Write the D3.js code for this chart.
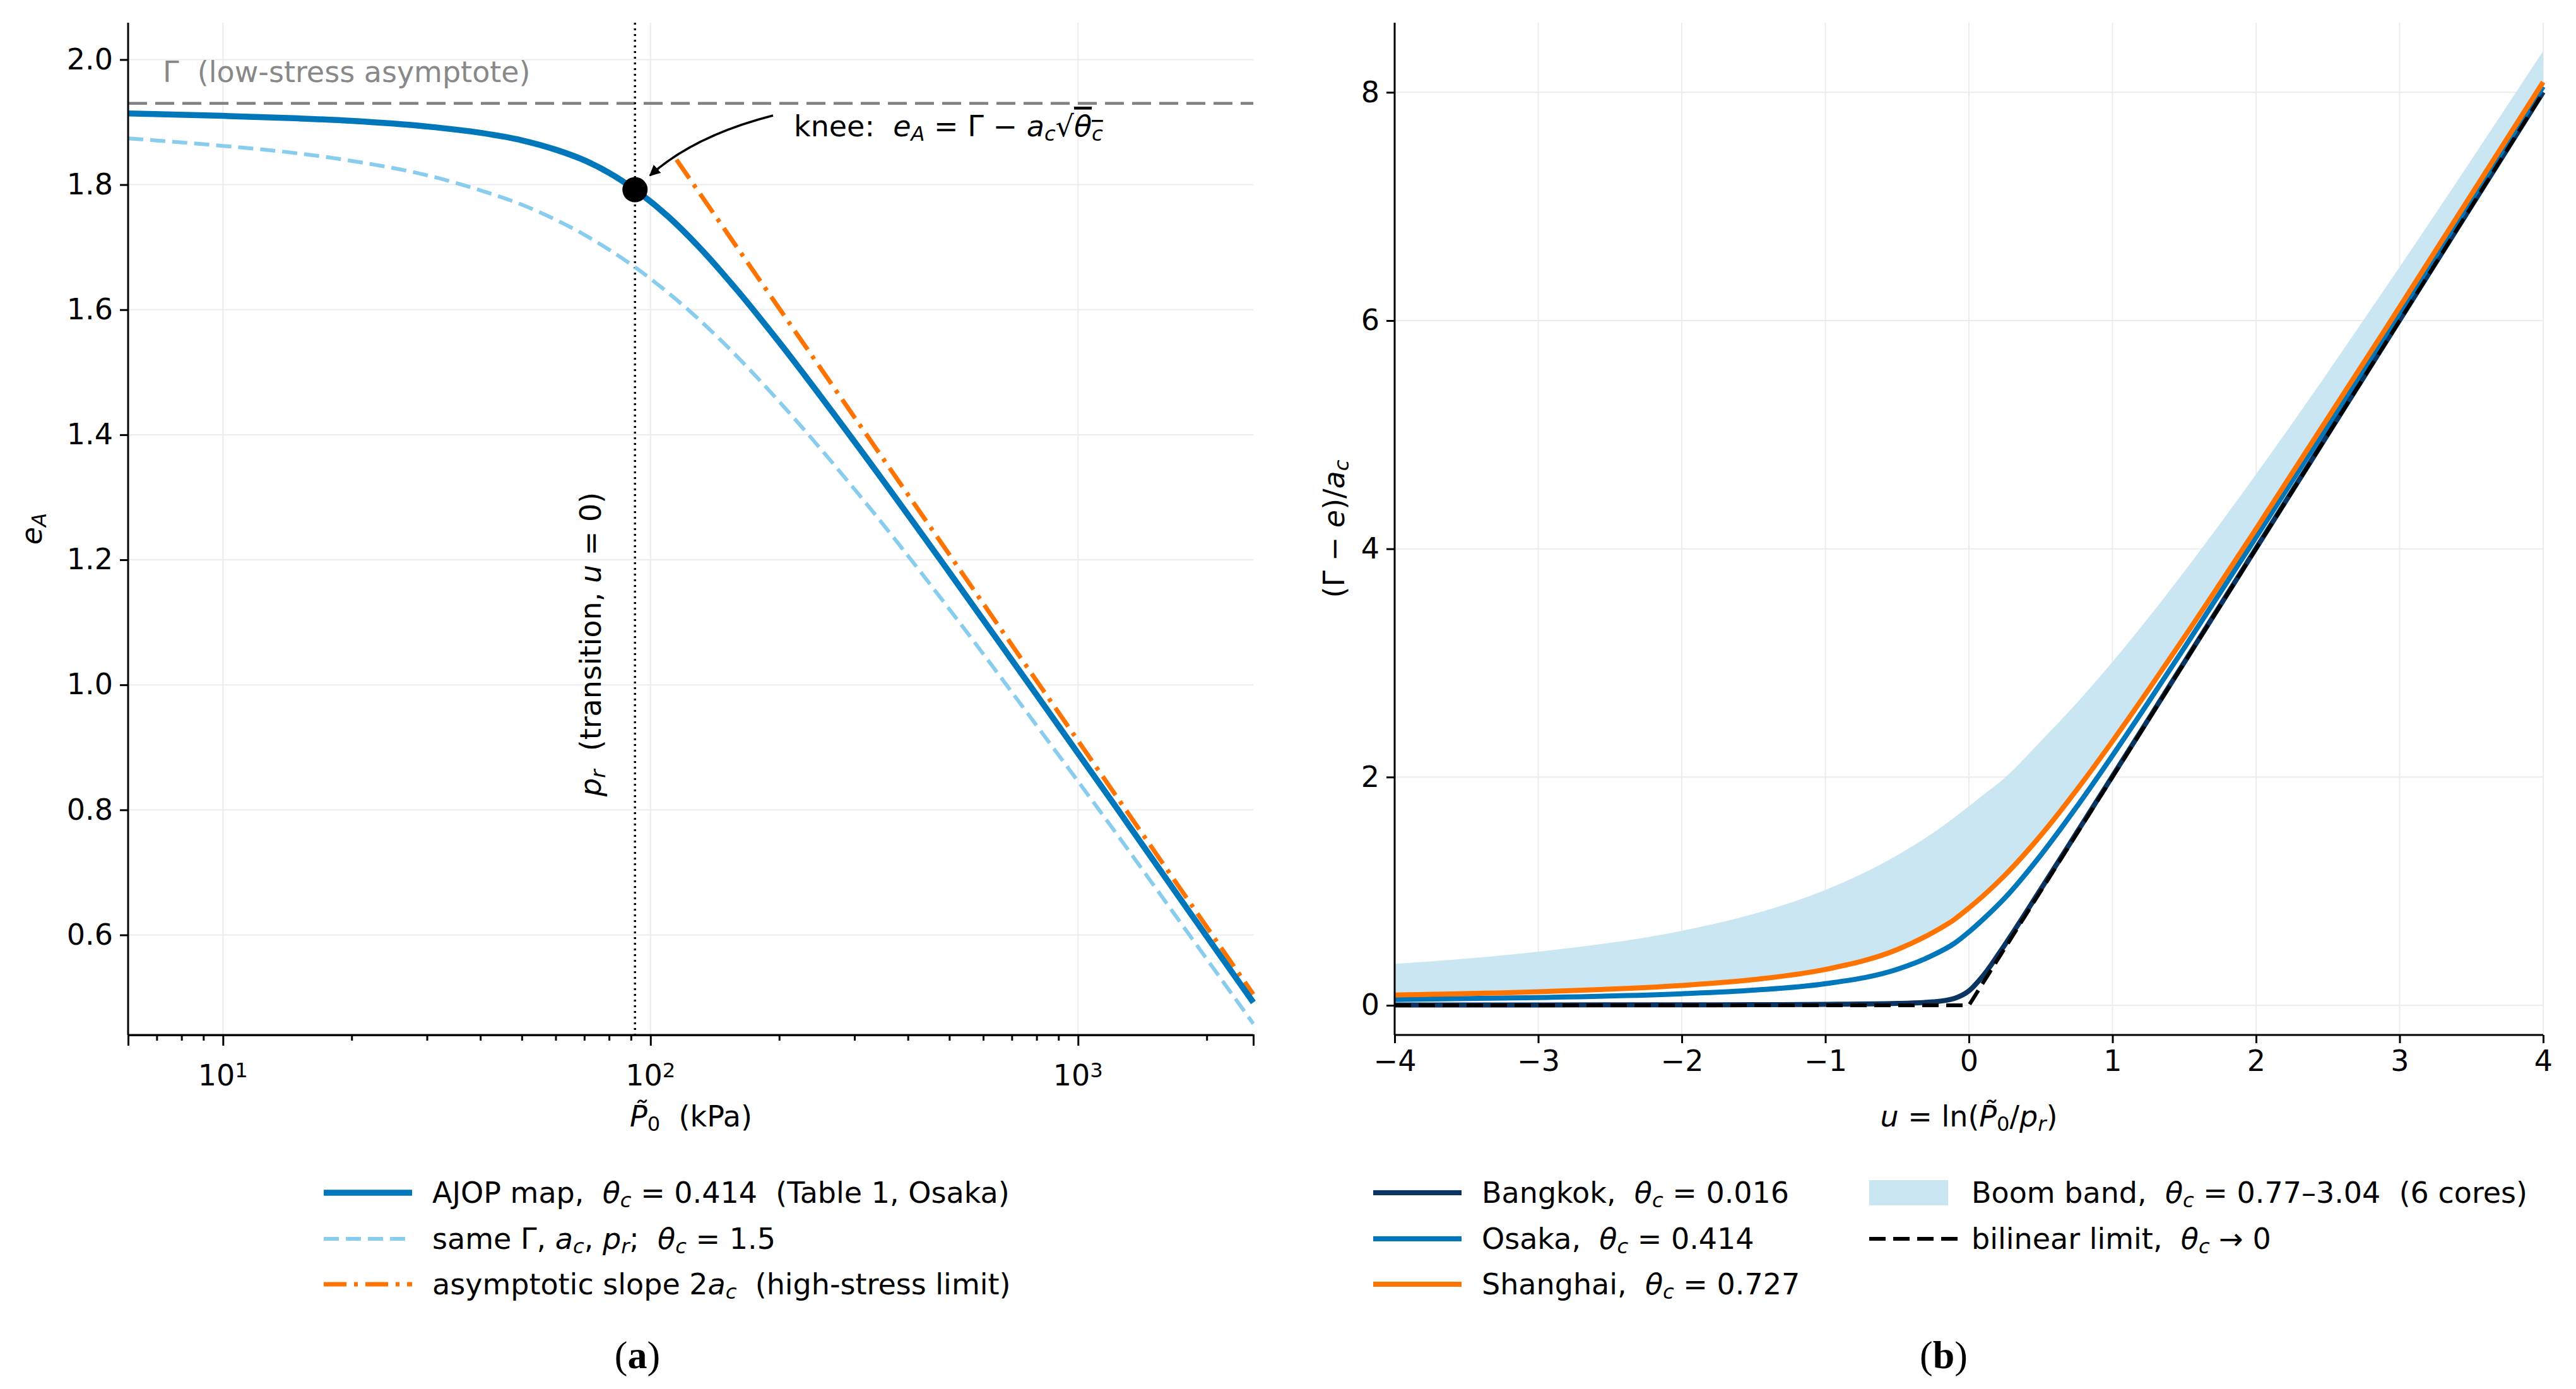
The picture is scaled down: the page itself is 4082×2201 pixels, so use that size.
<!DOCTYPE html>
<html><head><meta charset="utf-8">
<script src="https://cdn.jsdelivr.net/npm/d3@7"></script>
<style>body{margin:0;background:#fff}text{font-family:"DejaVu Sans",sans-serif;white-space:pre}</style>
</head><body><div id="chart"></div>
<script>
// panel (a): pressure (kPa) and void ratio curves
const pressure = [6, 10, 15, 20, 30, 40, 50, 60, 70, 80, 92, 110, 130, 160, 200, 300, 500, 800, 1200, 1800, 2570];
const eOsaka = [1.914, 1.910, 1.906, 1.902, 1.893, 1.883, 1.871, 1.856, 1.839, 1.819, 1.792, 1.749, 1.700, 1.630, 1.548, 1.389, 1.180, 0.984, 0.814, 0.642, 0.492];
const eTheta15 = [1.874, 1.862, 1.850, 1.838, 1.815, 1.791, 1.768, 1.744, 1.720, 1.696, 1.668, 1.627, 1.584, 1.524, 1.453, 1.313, 1.121, 0.935, 0.772, 0.605, 0.458];
const asymP = [115, 2570];
const asymE = [1.84, 0.505];
const gammaLevel = 1.93;
const prLevel = 92;
const knee = [92, 1.792];

// panel (b): normalised curves vs u
const uVals = [-4, -3, -2, -1.5, -1, -0.5, -0.25, -0.1, 0, 0.1, 0.25, 0.5, 0.75, 1, 1.25, 1.5, 2, 3, 4];
const bangkok = [0.002, 0.003, 0.004, 0.005, 0.008, 0.016, 0.030, 0.061, 0.126, 0.261, 0.530, 1.016, 1.511, 2.008, 2.506, 3.005, 4.004, 6.003, 8.002];
const osaka = [0.051, 0.068, 0.101, 0.132, 0.189, 0.315, 0.440, 0.544, 0.643, 0.755, 0.940, 1.315, 1.738, 2.189, 2.656, 3.132, 4.101, 6.068, 8.051];
const shanghai = [0.090, 0.119, 0.174, 0.225, 0.314, 0.488, 0.639, 0.754, 0.853, 0.960, 1.139, 1.488, 1.886, 2.314, 2.763, 3.225, 4.174, 6.119, 8.090];
const bandLow = [0.095, 0.126, 0.184, 0.238, 0.330, 0.510, 0.662, 0.783, 0.877, 0.983, 1.162, 1.510, 1.904, 2.330, 2.777, 3.238, 4.184, 6.126, 8.095];
const bandHigh = [0.363, 0.470, 0.653, 0.800, 1.010, 1.314, 1.511, 1.647, 1.744, 1.844, 1.994, 2.314, 2.648, 3.010, 3.395, 3.800, 4.653, 6.470, 8.363];
const bilinU = [-4, 0, 4];
const bilinV = [0, 0, 8];

const C = {blue: "#0077bb", light: "#88ccee", orange: "#ff7400", navy: "#0b3560", band: "#cbe6f3", grid: "#ececec"};
const FS = 46;

const svg = d3.select("#chart").append("svg").attr("width", 4082).attr("height", 2201);

// rich text: segments [text, flags] flags: i italic, s subscript, p superscript, o overline
function rich(t, segs, size) {
  segs.forEach(([txt, f = ""]) => {
    const ts = t.append("tspan").text(txt);
    if (f.includes("i")) ts.style("font-style", "italic");
    if (f.includes("s")) ts.attr("baseline-shift", "-22%").style("font-size", size * 0.7 + "px");
    if (f.includes("p")) ts.attr("baseline-shift", "40%").style("font-size", size * 0.7 + "px");
    if (f.includes("o")) ts.style("text-decoration", "overline");
  });
  return t;
}
function label(x, y, segs, opt = {}) {
  const size = opt.size || FS;
  const t = svg.append("text").attr("x", x).attr("y", y).style("font-size", size + "px")
    .attr("text-anchor", opt.anchor || "start").attr("fill", opt.fill || "#000");
  if (opt.rotate) t.attr("transform", `rotate(-90,${x},${y})`);
  return rich(t, segs, size);
}

// ---------- panel (a)
const A = {l: 203, r: 1986, t: 36, b: 1640};
const xa = d3.scaleLog().domain([6, 2570]).range([A.l, A.r]);
const ya = d3.scaleLinear().domain([0.44, 2.059]).range([A.b, A.t]);
const ga = svg.append("g");
const yTicksA = [0.6, 0.8, 1.0, 1.2, 1.4, 1.6, 1.8, 2.0];
const xMajorA = [10, 100, 1000];
yTicksA.forEach(v => ga.append("line").attr("x1", A.l).attr("x2", A.r).attr("y1", ya(v)).attr("y2", ya(v)).attr("stroke", C.grid).attr("stroke-width", 2));
xMajorA.forEach(v => ga.append("line").attr("x1", xa(v)).attr("x2", xa(v)).attr("y1", A.t).attr("y2", A.b).attr("stroke", C.grid).attr("stroke-width", 2));

const lineA = d3.line().x(d => xa(d[0])).y(d => ya(d[1])).curve(d3.curveMonotoneX);
ga.append("line").attr("x1", A.l).attr("x2", A.r).attr("y1", ya(gammaLevel)).attr("y2", ya(gammaLevel))
  .attr("stroke", "#808080").attr("stroke-width", 4.5).attr("stroke-dasharray", "30,13");
ga.append("line").attr("x1", xa(prLevel)).attr("x2", xa(prLevel)).attr("y1", A.t).attr("y2", A.b)
  .attr("stroke", "#000").attr("stroke-width", 3.5).attr("stroke-dasharray", "3,6");
ga.append("path").attr("d", lineA(pressure.map((p, i) => [p, eTheta15[i]]))).attr("fill", "none")
  .attr("stroke", C.light).attr("stroke-width", 6).attr("stroke-dasharray", "24,11");
ga.append("path").attr("d", lineA(asymP.map((p, i) => [p, asymE[i]]))).attr("fill", "none")
  .attr("stroke", C.orange).attr("stroke-width", 7).attr("stroke-dasharray", "36,12,6,12");
ga.append("path").attr("d", lineA(pressure.map((p, i) => [p, eOsaka[i]]))).attr("fill", "none")
  .attr("stroke", C.blue).attr("stroke-width", 9.5);
ga.append("circle").attr("cx", xa(knee[0])).attr("cy", ya(knee[1])).attr("r", 20).attr("fill", "#000");

// axes a
const axA = svg.append("g").attr("transform", `translate(0,${A.b})`)
  .call(d3.axisBottom(xa).tickValues(xa.ticks().filter(v => !xMajorA.includes(v))).tickSize(9).tickFormat(""));
axA.append("g").call(d3.axisBottom(xa).tickValues(xMajorA).tickSize(17).tickFormat(""));
axA.selectAll("path,line").attr("stroke", "#000").attr("stroke-width", 3);
xMajorA.forEach((v, i) => label(xa(v), A.b + 80, [["10"], [String(i + 1), "p"]], {anchor: "middle"}));
const ayA = svg.append("g").attr("transform", `translate(${A.l},0)`)
  .call(d3.axisLeft(ya).tickValues(yTicksA).tickSize(13).tickFormat(d3.format(".1f")));
ayA.selectAll("path,line").attr("stroke", "#000").attr("stroke-width", 3);
ayA.selectAll("text").style("font-size", FS + "px").attr("x", -24).attr("fill", "#000");
ayA.select(".domain").attr("d", `M0,${A.t}V${A.b}`);
svg.append("line").attr("x1", A.l).attr("x2", A.r).attr("y1", A.b).attr("y2", A.b).attr("stroke", "#000").attr("stroke-width", 3);

label(1095, 1785, [["P̃", "i"], ["0", "s"], ["  (kPa)"]], {anchor: "middle"});
label(66, 838, [["e", "i"], ["A", "si"]], {anchor: "middle", rotate: true});
label(258, 130, [["Γ  (low-stress asymptote)"]], {fill: "#888"});
label(952, 1262, [["p", "i"], ["r", "si"], ["  (transition, "], ["u", "i"], [" = 0)"]], {rotate: true});
label(1258, 216, [["knee:  "], ["e", "i"], ["A", "si"], [" = Γ − "], ["a", "i"], ["c", "si"], ["√"], ["θ", "io"], ["c", "sio"]]);
svg.append("defs").append("marker").attr("id", "ah").attr("viewBox", "0 -5 10 10").attr("refX", 9)
  .attr("markerWidth", 5).attr("markerHeight", 5).attr("orient", "auto")
  .append("path").attr("d", "M0,-5L10,0L0,5Z").attr("fill", "#000");
svg.append("path").attr("d", "M1225,183 Q1100,215 1030,278").attr("fill", "none").attr("stroke", "#000")
  .attr("stroke-width", 3.5).attr("marker-end", "url(#ah)");

// ---------- panel (b)
const B = {l: 2210, r: 4030, t: 36, b: 1640};
const xb = d3.scaleLinear().domain([-4, 4]).range([B.l, B.r]);
const yb = d3.scaleLinear().domain([-0.26, 8.61]).range([B.b, B.t]);
const gb = svg.append("g");
const xTicksB = [-4, -3, -2, -1, 0, 1, 2, 3, 4];
const yTicksB = [0, 2, 4, 6, 8];
yTicksB.forEach(v => gb.append("line").attr("x1", B.l).attr("x2", B.r).attr("y1", yb(v)).attr("y2", yb(v)).attr("stroke", C.grid).attr("stroke-width", 2));
xTicksB.forEach(v => gb.append("line").attr("x1", xb(v)).attr("x2", xb(v)).attr("y1", B.t).attr("y2", B.b).attr("stroke", C.grid).attr("stroke-width", 2));

gb.append("path").attr("d", d3.area().x((d, i) => xb(uVals[i])).y0((d, i) => yb(bandLow[i])).y1((d, i) => yb(bandHigh[i])).curve(d3.curveMonotoneX)(uVals))
  .attr("fill", C.band);
const lineB = d3.line().x(d => xb(d[0])).y(d => yb(d[1])).curve(d3.curveMonotoneX);
[[bangkok, C.navy], [osaka, C.blue], [shanghai, C.orange]].forEach(([vals, col]) =>
  gb.append("path").attr("d", lineB(uVals.map((u, i) => [u, vals[i]]))).attr("fill", "none")
    .attr("stroke", col).attr("stroke-width", 8));
gb.append("path").attr("d", d3.line().x(d => xb(d[0])).y(d => yb(d[1]))(bilinU.map((u, i) => [u, bilinV[i]])))
  .attr("fill", "none").attr("stroke", "#000").attr("stroke-width", 6).attr("stroke-dasharray", "26,12");

const axB = svg.append("g").attr("transform", `translate(0,${B.b})`)
  .call(d3.axisBottom(xb).tickValues(xTicksB).tickSize(13).tickFormat(d => d < 0 ? "−" + (-d) : d));
axB.selectAll("path,line").attr("stroke", "#000").attr("stroke-width", 3);
axB.selectAll("text").style("font-size", FS + "px").attr("y", 24).attr("fill", "#000");
axB.select(".domain").attr("d", `M${B.l},0H${B.r}`);
const ayB = svg.append("g").attr("transform", `translate(${B.l},0)`)
  .call(d3.axisLeft(yb).tickValues(yTicksB).tickSize(13));
ayB.selectAll("path,line").attr("stroke", "#000").attr("stroke-width", 3);
ayB.selectAll("text").style("font-size", FS + "px").attr("x", -24).attr("fill", "#000");
ayB.select(".domain").attr("d", `M0,${B.t}V${B.b}`);

label(3120, 1785, [["u", "i"], [" = ln("], ["P̃", "i"], ["0", "s"], ["/"], ["p", "i"], ["r", "si"], [")"]], {anchor: "middle"});
label(2130, 838, [["(Γ − "], ["e", "i"], [")/"], ["a", "i"], ["c", "si"]], {anchor: "middle", rotate: true});

// ---------- legends
function legLine(x, y, col, w, dash) {
  svg.append("line").attr("x1", x).attr("x2", x + 140).attr("y1", y).attr("y2", y).attr("stroke", col)
    .attr("stroke-width", w).attr("stroke-dasharray", dash || null);
}
legLine(513, 1890, C.blue, 9.5);
label(685, 1906, [["AJOP map,  "], ["θ", "i"], ["c", "si"], [" = 0.414  (Table 1, Osaka)"]]);
legLine(513, 1963, C.light, 6, "24,11");
label(685, 1979, [["same Γ, "], ["a", "i"], ["c", "si"], [", "], ["p", "i"], ["r", "si"], [";  "], ["θ", "i"], ["c", "si"], [" = 1.5"]]);
legLine(513, 2035, C.orange, 7, "36,12,6,12");
label(685, 2051, [["asymptotic slope 2"], ["a", "i"], ["c", "si"], ["  (high-stress limit)"]]);

legLine(2176, 1890, C.navy, 8);
label(2348, 1906, [["Bangkok,  "], ["θ", "i"], ["c", "si"], [" = 0.016"]]);
legLine(2176, 1963, C.blue, 8);
label(2348, 1979, [["Osaka,  "], ["θ", "i"], ["c", "si"], [" = 0.414"]]);
legLine(2176, 2035, C.orange, 8);
label(2348, 2051, [["Shanghai,  "], ["θ", "i"], ["c", "si"], [" = 0.727"]]);
svg.append("rect").attr("x", 2962).attr("y", 1870).attr("width", 125).attr("height", 40).attr("fill", C.band);
label(3124, 1906, [["Boom band,  "], ["θ", "i"], ["c", "si"], [" = 0.77–3.04  (6 cores)"]]);
legLine(2962, 1963, "#000", 6, "26,12");
label(3124, 1979, [["bilinear limit,  "], ["θ", "i"], ["c", "si"], [" → 0"]]);

// captions
["a", "b"].forEach((c, i) => {
  const t = svg.append("text").attr("x", i ? 3080 : 1010).attr("y", 2168).attr("text-anchor", "middle")
    .style("font-family", "'Liberation Serif',serif").style("font-size", "62px");
  t.append("tspan").text("(");
  t.append("tspan").style("font-weight", "bold").text(c);
  t.append("tspan").text(")");
});
</script></body></html>
